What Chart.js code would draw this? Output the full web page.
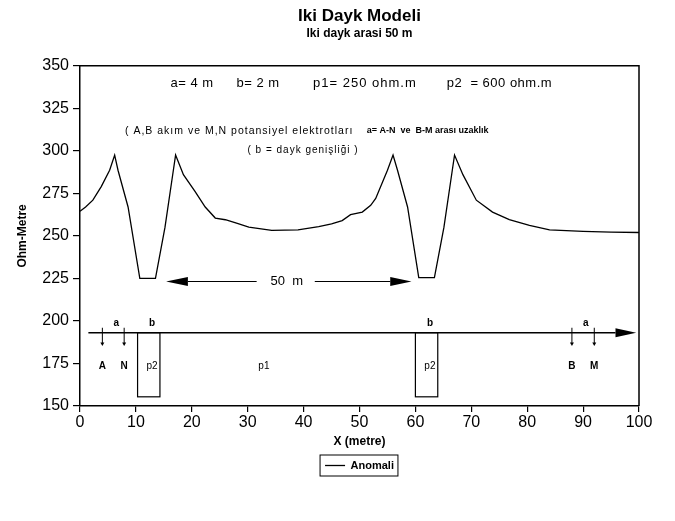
<!DOCTYPE html>
<html>
<head>
<meta charset="utf-8">
<script src="https://cdn.jsdelivr.net/npm/chart.js@4.4.0/dist/chart.umd.min.js"></script>
<style>
  html, body { margin: 0; padding: 0; background: #fff; }
</style>
</head>
<body>
<canvas id="chart" width="675" height="521"></canvas>
<script>
// Anomaly profile: x in metre, apparent resistivity in ohm-m
const xMetre = [0, 1, 2.3, 3.8, 5.3, 6.2, 6.8, 8.6, 10.7, 13.5, 15.2, 16.7, 17.1, 18.5, 20.6, 22.4, 24.2, 26, 28, 30.2, 34.3, 39, 42.7, 45, 46.9, 48.4, 50.5, 52, 52.9, 55, 56, 56.8, 58.6, 60.6, 63.4, 65.1, 66.6, 67, 68.5, 70.9, 73.8, 76.8, 80.4, 84, 90, 95, 100];
const ohmMetre = [264.5, 267, 271, 279, 288.6, 297.5, 288.6, 267, 225, 225, 255, 288.6, 297.5, 286, 276, 267, 260.5, 259.5, 257.5, 255.2, 253.2, 253.5, 255.5, 257, 259, 262.5, 264, 268, 272, 288.6, 297.5, 288.6, 267, 225.5, 225.5, 255, 288.6, 297.5, 286, 271, 264, 259.6, 256.2, 253.6, 252.7, 252.2, 252];

const xTicks = [0, 10, 20, 30, 40, 50, 60, 70, 80, 90, 100];
const yTicks = [150, 175, 200, 225, 250, 275, 300, 325, 350];

// Sketch of the model (electrodes and the two dykes), in x metre
const electrodeNames = ['A', 'N', 'B', 'M'];
const electrodeX = [4, 7.9, 88, 92];
const dykeFrom = [10.3, 60];
const dykeTo = [14.3, 64];

const FONT = "'Liberation Sans', Arial, sans-serif";

// draws the frame, the model sketch and the notes through the chart scales
const sketchPlugin = {
    id: 'sketch',
    afterDatasetsDraw(chart) {
        const { ctx, chartArea } = chart;
        const xs = chart.scales.x;
        const ys = chart.scales.y;
        const px = v => xs.getPixelForValue(v);
        const py = v => ys.getPixelForValue(v);

        ctx.save();
        ctx.strokeStyle = '#000';
        ctx.fillStyle = '#000';

        // top and right frame
        ctx.lineWidth = 1.5;
        ctx.beginPath();
        ctx.moveTo(chartArea.left, chartArea.top);
        ctx.lineTo(chartArea.right, chartArea.top);
        ctx.lineTo(chartArea.right, chartArea.bottom);
        ctx.stroke();

        const text = (str, x, y, font, align, spacing) => {
            ctx.font = font;
            ctx.letterSpacing = spacing || '0px';
            ctx.textAlign = align || 'left';
            ctx.textBaseline = 'middle';
            ctx.fillText(str, px(x), py(y));
            ctx.letterSpacing = '0px';
        };

        // notes
        text('a= 4 m', 16.2, 339.8, '13px ' + FONT, 'left', '0.5px');
        text('b= 2 m', 28, 339.8, '13px ' + FONT, 'left', '0.5px');
        text('p1= 250 ohm.m', 41.7, 339.8, '13px ' + FONT, 'left', '1px');
        text('p2  = 600 ohm.m', 65.6, 339.8, '13px ' + FONT, 'left', '0.5px');
        text('( A,B akım ve M,N potansiyel elektrotları', 8.05, 311.7, '10.5px ' + FONT, 'left', '1px');
        text('a= A-N  ve  B-M arası uzaklık', 51.3, 311.7, 'bold 9px ' + FONT);
        text('( b = dayk genişliği )', 39.9, 300.4, '10px ' + FONT, 'center', '1px');

        // 50 m arrow between the dykes
        const arrowY = py(223.2);
        ctx.lineWidth = 1.2;
        ctx.beginPath();
        ctx.moveTo(px(19.3), arrowY);
        ctx.lineTo(px(31.6), arrowY);
        ctx.moveTo(px(42), arrowY);
        ctx.lineTo(px(55.5), arrowY);
        ctx.stroke();
        ctx.beginPath();
        ctx.moveTo(px(15.4), arrowY);
        ctx.lineTo(px(19.3), arrowY - 4.5);
        ctx.lineTo(px(19.3), arrowY + 4.5);
        ctx.closePath();
        ctx.moveTo(px(59.3), arrowY);
        ctx.lineTo(px(55.5), arrowY - 4.5);
        ctx.lineTo(px(55.5), arrowY + 4.5);
        ctx.closePath();
        ctx.fill();
        text('50  m', 37, 223.2, '13px ' + FONT, 'center');

        // profile line with arrow head
        const profY = py(193.1);
        ctx.lineWidth = 1.5;
        ctx.beginPath();
        ctx.moveTo(px(1.5), profY);
        ctx.lineTo(px(95.8), profY);
        ctx.stroke();
        ctx.beginPath();
        ctx.moveTo(px(99.5), profY);
        ctx.lineTo(px(95.8), profY - 4.5);
        ctx.lineTo(px(95.8), profY + 4.5);
        ctx.closePath();
        ctx.fill();

        // electrodes
        ctx.lineWidth = 1;
        electrodeX.forEach((x, i) => {
            const ex = px(x);
            ctx.beginPath();
            ctx.moveTo(ex, py(196));
            ctx.lineTo(ex, py(186.5));
            ctx.stroke();
            ctx.beginPath();
            ctx.moveTo(ex, py(185.2));
            ctx.lineTo(ex - 2, py(187.3));
            ctx.lineTo(ex + 2, py(187.3));
            ctx.closePath();
            ctx.fill();
            text(electrodeNames[i], x, 173.5, 'bold 10px ' + FONT, 'center');
        });

        // dykes
        ctx.lineWidth = 1.2;
        dykeFrom.forEach((x0, i) => {
            ctx.strokeRect(px(x0), py(193.1), px(dykeTo[i]) - px(x0), py(155.4) - py(193.1));
            text('b', (x0 + dykeTo[i]) / 2 + 0.6, 198.8, 'bold 10px ' + FONT, 'center');
            text('p2', (x0 + dykeTo[i]) / 2 + 0.6, 173.5, '10px ' + FONT, 'center');
        });
        text('a', 6.5, 198.8, 'bold 10px ' + FONT, 'center');
        text('a', 90.5, 198.8, 'bold 10px ' + FONT, 'center');
        text('p1', 32.9, 173.5, '10px ' + FONT, 'center');

        ctx.restore();
    },
    afterDraw(chart) {
        // box around the legend
        const box = chart.legend && chart.legend.legendHitBoxes[0];
        if (!box) return;
        const { ctx } = chart;
        ctx.save();
        ctx.strokeStyle = '#000';
        ctx.lineWidth = 1;
        ctx.strokeRect(box.left - 5, box.top - 5, box.width + 9, box.height + 10);
        ctx.restore();
    }
};

const ctx = document.getElementById('chart');
new Chart(ctx, {
    type: 'line',
    data: {
        datasets: [{
            label: 'Anomali',
            data: xMetre.map((x, i) => ({ x: x, y: ohmMetre[i] })),
            borderColor: '#000',
            backgroundColor: '#000',
            borderWidth: 1.3,
            pointRadius: 0,
            tension: 0,
            fill: false
        }]
    },
    options: {
        responsive: false,
        animation: false,
        layout: { padding: { top: 0, right: 36, bottom: 40, left: 0 } },
        scales: {
            x: {
                type: 'linear',
                min: 0,
                max: 100,
                afterBuildTicks: s => { s.ticks = xTicks.map(v => ({ value: v })); },
                afterFit: s => { s.height = 48; },
                ticks: { color: '#000', font: { family: FONT, size: 16 }, padding: 1, maxRotation: 0 },
                grid: { drawOnChartArea: false, drawTicks: true, tickLength: 6, color: '#000', lineWidth: 1.2 },
                border: { color: '#000', width: 1.5 },
                title: {
                    display: true,
                    text: 'X (metre)',
                    color: '#000',
                    font: { family: FONT, size: 12, weight: 'bold' },
                    padding: { top: 2, bottom: 5 }
                }
            },
            y: {
                min: 150,
                max: 350,
                afterBuildTicks: s => { s.ticks = yTicks.map(v => ({ value: v })); },
                afterFit: s => { s.width = 80; },
                ticks: { color: '#000', font: { family: FONT, size: 16 }, padding: 4 },
                grid: { drawOnChartArea: false, drawTicks: true, tickLength: 7, color: '#000', lineWidth: 1.2 },
                border: { color: '#000', width: 1.5 },
                title: {
                    display: true,
                    text: 'Ohm-Metre',
                    color: '#000',
                    font: { family: FONT, size: 12, weight: 'bold' },
                    padding: { top: 15, bottom: 0 }
                }
            }
        },
        plugins: {
            title: {
                display: true,
                text: 'Iki Dayk Modeli',
                color: '#000',
                fullSize: false,
                font: { family: FONT, size: 17, weight: 'bold' },
                padding: { top: 6, bottom: 0 }
            },
            subtitle: {
                display: true,
                text: 'Iki dayk arasi 50 m',
                color: '#000',
                fullSize: false,
                font: { family: FONT, size: 12, weight: 'bold' },
                padding: { top: 0, bottom: 25 }
            },
            legend: {
                position: 'bottom',
                fullSize: false,
                labels: {
                    color: '#000',
                    usePointStyle: true,
                    pointStyle: 'line',
                    pointStyleWidth: 20,
                    font: { family: FONT, size: 11, weight: 'bold' },
                    padding: 6
                }
            },
            tooltip: { enabled: false }
        }
    },
    plugins: [sketchPlugin]
});
</script>
</body>
</html>
